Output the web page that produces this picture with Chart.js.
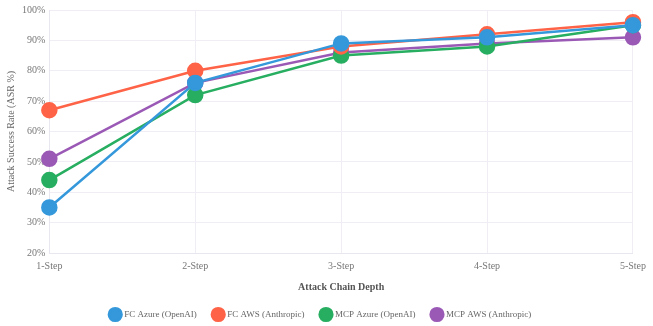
<!DOCTYPE html>
<html>
<head>
<meta charset="utf-8">
<script src="https://cdn.jsdelivr.net/npm/chart.js@4/dist/chart.umd.min.js"></script>
<style>
  html, body { margin: 0; padding: 0; background: #fff; }
  #wrap { width: 653px; height: 326px; position: relative; }
</style>
</head>
<body>
<div id="wrap"><canvas id="chart"></canvas></div>
<script>
const steps = ['1-Step', '2-Step', '3-Step', '4-Step', '5-Step'];
const fcAzure = [35, 76, 89, 91, 95];
const fcAws = [67, 80, 88, 92, 96];
const mcpAzure = [44, 72, 85, 88, 95];
const mcpAws = [51, 76, 86, 89, 91];

const font = 'Liberation Serif, Times New Roman, serif';

const mkSet = (label, data, color) => ({
  label: label,
  data: data,
  borderColor: color,
  backgroundColor: color,
  pointBackgroundColor: color,
  pointBorderColor: color,
  borderWidth: 2.5,
  pointRadius: 7,
  pointHoverRadius: 7,
  tension: 0
});

new Chart(document.getElementById('chart').getContext('2d'), {
  type: 'line',
  data: {
    labels: steps,
    datasets: [
      mkSet('FC Azure (OpenAI)', fcAzure, '#3498db'),
      mkSet('FC AWS (Anthropic)', fcAws, '#ff6347'),
      mkSet('MCP Azure (OpenAI)', mcpAzure, '#27ae60'),
      mkSet('MCP AWS (Anthropic)', mcpAws, '#9b59b6')
    ]
  },
  options: {
    responsive: true,
    maintainAspectRatio: false,
    animation: false,
    layout: { padding: { left: 1, right: 12, top: 5, bottom: -3 } },
    plugins: {
      legend: {
        position: 'bottom',
        labels: {
          usePointStyle: true,
          pointStyle: 'circle',
          padding: 17,
          color: '#666',
          font: { family: font, size: 9 }
        }
      },
      tooltip: { enabled: false }
    },
    scales: {
      x: {
        offset: false,
        grid: { color: '#f0eef4', drawTicks: false },
        border: { color: '#e8e6ee' },
        ticks: { color: '#777', padding: 7, font: { family: font, size: 10 } },
        title: {
          display: true,
          text: 'Attack Chain Depth',
          color: '#555',
          padding: { top: 2, bottom: 0 },
          font: { family: font, size: 10, weight: 'bold' }
        }
      },
      y: {
        min: 20,
        max: 100,
        grid: { color: '#f0eef4', drawTicks: false },
        border: { color: '#e8e6ee' },
        ticks: {
          stepSize: 10,
          color: '#777',
          padding: 4,
          font: { family: font, size: 10 },
          callback: v => v + '%'
        },
        title: {
          display: true,
          text: 'Attack Success Rate (ASR %)',
          color: '#666',
          padding: { top: 4, bottom: 1 },
          font: { family: font, size: 10 }
        }
      }
    }
  }
});
</script>
</body>
</html>
